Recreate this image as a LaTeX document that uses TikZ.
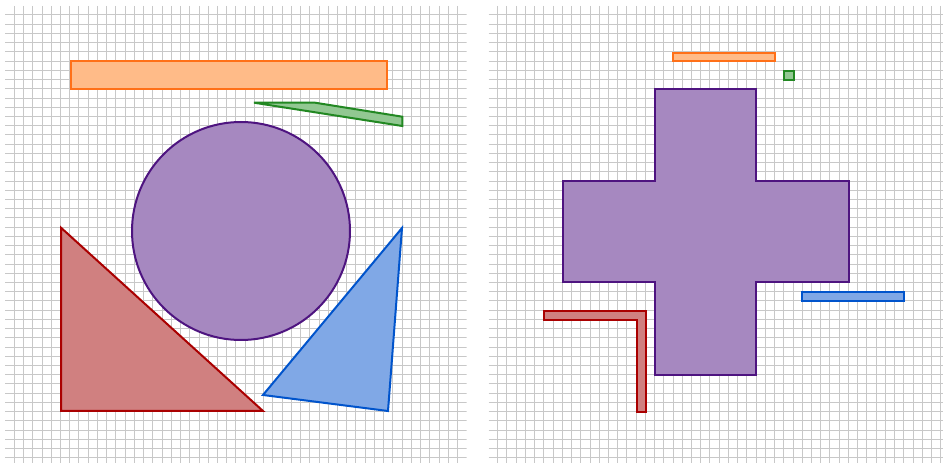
\documentclass[tikz,border=0pt]{standalone}
\definecolor{gridc}{RGB}{200,200,200}
\definecolor{orF}{RGB}{255,187,136}\definecolor{orD}{RGB}{255,112,24}
\definecolor{grF}{RGB}{146,200,146}\definecolor{grD}{RGB}{34,136,34}
\definecolor{puF}{RGB}{166,136,192}\definecolor{puD}{RGB}{78,20,128}
\definecolor{reF}{RGB}{208,128,128}\definecolor{reD}{RGB}{170,0,0}
\definecolor{blF}{RGB}{128,168,230}\definecolor{blD}{RGB}{0,84,204}
\tikzset{
  gridline/.style={draw=gridc,line width=0.75pt},
  shp/.style={line width=1.5pt,line join=miter},
  orshape/.style={shp,fill=orF,draw=orD},
  grshape/.style={shp,fill=grF,draw=grD},
  pushape/.style={shp,fill=puF,draw=puD},
  reshape/.style={shp,fill=reF,draw=reD},
  blshape/.style={shp,fill=blF,draw=blD}
}
\begin{document}
\begin{tikzpicture}[x=0.75pt,y=-0.75pt]
\useasboundingbox (0,0) rectangle (943,463);
\fill[white] (0,0) rectangle (943,463);
% left grid
\begin{scope}
\clip (5,6) rectangle (466.5,463);
\foreach \i in {0,...,48} {
  \draw[gridline] ({14.3+9.235*\i},6) -- ({14.3+9.235*\i},463);
  \draw[gridline] (5,{15+9.225*\i}) -- (466.5,{15+9.225*\i});
}
\end{scope}
% right grid
\begin{scope}
\clip (488.5,6) rectangle (943,463);
\foreach \i in {0,...,48} {
  \draw[gridline] ({497.7+9.23*\i},6) -- ({497.7+9.23*\i},463);
  \draw[gridline] (488.5,{15+9.225*\i}) -- (943,{15+9.225*\i});
}
\end{scope}
% left panel shapes
\draw[orshape] (70.7,61) rectangle (387.3,89.3);
\draw[grshape] (254,102.7) -- (315,102.7) -- (402.3,116.7) -- (402.3,126) -- cycle;
\draw[pushape] (241,231) circle[radius=109];
\draw[reshape] (61,227.7) -- (61,411) -- (263,411) -- cycle;
\draw[blshape] (402,228) -- (263,395) -- (388,411) -- cycle;
% right panel shapes
\draw[orshape] (673.3,52.7) rectangle (775,61);
\draw[grshape] (784,70.7) rectangle (794,80);
\draw[pushape] (655.3,89.3) -- (755.8,89.3) -- (755.8,181.5) -- (848.5,181.5) -- (848.5,282.5)
  -- (755.8,282.5) -- (755.8,375) -- (655.3,375) -- (655.3,282.5) -- (562.8,282.5)
  -- (562.8,181.5) -- (655.3,181.5) -- cycle;
\draw[reshape] (543.7,310.7) -- (645.8,310.7) -- (645.8,411.7) -- (636.7,411.7) -- (636.7,320) -- (543.7,320) -- cycle;
\draw[blshape] (802.3,292.3) rectangle (904.3,301.3);
\end{tikzpicture}
\end{document}
